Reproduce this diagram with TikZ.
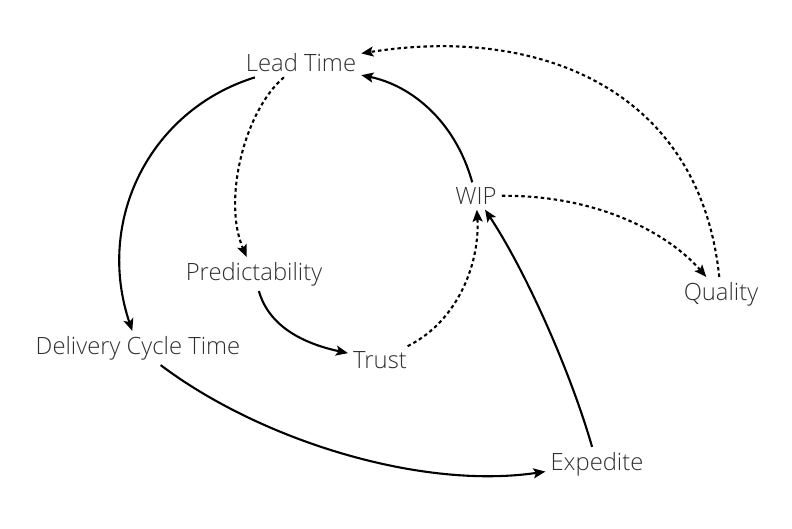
\documentclass[tikz,border=0pt]{standalone}
\usepackage{fontspec}
\setmainfont{Open Sans Light}
\usetikzlibrary{arrows.meta}
\definecolor{txt}{HTML}{303030}
\tikzset{
  lbl/.style={font=\fontsize{23.8}{28}\selectfont, text=txt, inner sep=5pt},
  solidarrow/.style={line width=2.1pt, -{Stealth[length=12pt,width=10pt,inset=2.5pt]}},
  dotarrow/.style={solidarrow, dash pattern=on 3.5pt off 3pt}
}
\begin{document}
\begin{tikzpicture}[x=1pt,y=-1pt]
\useasboundingbox (0,0) rectangle (792,528);
\node[lbl] (lt) at (301,63) {Lead Time};
\node[lbl] (wip) at (476,196) {WIP};
\node[lbl] (pred) at (254,274) {Predictability};
\node[lbl] (dct) at (138,348) {Delivery Cycle Time};
\node[lbl] (trust) at (380,360) {Trust};
\node[lbl] (qual) at (721,294) {Quality};
\node[lbl] (exp) at (597,464) {Expedite};

\draw[solidarrow] (lt) .. controls (150,110) and (95,220) .. (dct);
\draw[dotarrow] (lt) .. controls (245,110) and (222,200) .. (pred);
\draw[solidarrow] (pred) .. controls (270,330) and (310,345) .. (trust);
\draw[dotarrow] (trust) .. controls (460,320) and (480,260) .. (wip);
\draw[solidarrow] (exp) .. controls (570,370) and (525,270) .. (wip);
\draw[solidarrow] (wip) .. controls (455,120) and (410,85) .. (lt);
\draw[dotarrow] (wip) .. controls (600,195) and (670,235) .. (qual);
\draw[dotarrow] (qual) .. controls (700,90) and (540,25) .. (lt);
\draw[solidarrow] (dct) .. controls (260,440) and (420,490) .. (exp);
\end{tikzpicture}
\end{document}
